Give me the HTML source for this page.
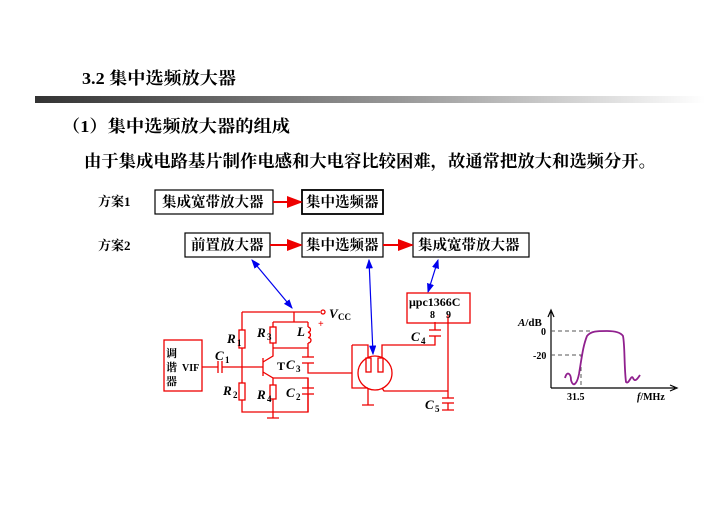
<!DOCTYPE html>
<html><head><meta charset="utf-8"><style>
html,body{margin:0;padding:0;background:#fff;}
svg text{font-family:"Liberation Serif","Noto Serif CJK SC",serif;font-weight:bold;}
</style></head><body>
<svg width="713" height="504" viewBox="0 0 713 504" xmlns="http://www.w3.org/2000/svg">
<defs>
<linearGradient id="g" x1="0" x2="1"><stop offset="0" stop-color="#333"/><stop offset="0.55" stop-color="#999"/><stop offset="1" stop-color="#fff"/></linearGradient>
<marker id="ra" markerWidth="8" markerHeight="6" refX="7" refY="3" orient="auto"><path d="M0,0L8,3L0,6z" fill="#e00"/></marker>
<marker id="ba" markerWidth="8" markerHeight="6" refX="7" refY="3" orient="auto-start-reverse"><path d="M0,0L8,3L0,6z" fill="#00e"/></marker>
</defs>
<text x="82" y="84" font-size="17" textLength="154" lengthAdjust="spacingAndGlyphs">3.2 集中选频放大器</text>
<rect x="35" y="96" width="670" height="7" fill="url(#g)"/>
<text x="62" y="132" font-size="17" textLength="228" lengthAdjust="spacingAndGlyphs">（1）集中选频放大器的组成</text>
<text x="84" y="167" font-size="17" textLength="572" lengthAdjust="spacingAndGlyphs">由于集成电路基片制作电感和大电容比较困难，故通常把放大和选频分开。</text>
<text x="98" y="206" font-size="13">方案1</text>
<text x="98" y="250" font-size="13">方案2</text>
<g fill="none" stroke="#000" stroke-width="1.2">
<rect x="155" y="190" width="118" height="24"/><rect x="302" y="190" width="81" height="24" stroke-width="1.8"/>
<rect x="185" y="233" width="85" height="24"/><rect x="302" y="233" width="81" height="24"/><rect x="413" y="233" width="116" height="24"/>
</g>
<g font-size="14.5">
<text x="162" y="207">集成宽带放大器</text><text x="306" y="207">集中选频器</text>
<text x="191" y="250">前置放大器</text><text x="306" y="250">集中选频器</text><text x="418" y="250">集成宽带放大器</text>
</g>
<g stroke="#e00" stroke-width="2" marker-end="url(#ra)">
<line x1="273" y1="202" x2="301" y2="202"/><line x1="270" y1="245" x2="301" y2="245"/><line x1="383" y1="245" x2="412" y2="245"/>
</g>
<g stroke="#00e" stroke-width="1.2" marker-start="url(#ba)" marker-end="url(#ba)">
<line x1="252" y1="260" x2="292" y2="308"/><line x1="369" y1="260" x2="373" y2="354"/><line x1="438" y1="260" x2="428" y2="292"/>
</g>
<g fill="none" stroke="#e00" stroke-width="1.3">
<rect x="164" y="340" width="38" height="51"/>
<path d="M242 312H320M294 312V322M273 322H308M242 312V412H308V378H273M202 367H218M222 367H263"/>
<line x1="218" y1="361" x2="218" y2="373"/><line x1="222" y1="361" x2="222" y2="373"/>
<rect x="239" y="330" width="6" height="18" fill="#fff"/><rect x="239" y="383" width="6" height="17" fill="#fff"/>
<path d="M273 322V348M308 322V327M308 343V357M308 363V373H352M273 348H308"/>
<rect x="270" y="327" width="6" height="16" fill="#fff"/>
<path d="M308 327a3 2.7 0 0 1 0 5.3a3 2.7 0 0 1 0 5.3a3 2.7 0 0 1 0 5.4"/>
<line x1="302" y1="357" x2="314" y2="357"/><line x1="302" y1="363" x2="314" y2="363"/>
<line x1="263" y1="358" x2="263" y2="376"/><path d="M263 362L273 356V348M263 372L273 378V412"/>
<rect x="270" y="385" width="6" height="14" fill="#fff"/>
<path d="M308 378V388M308 394V412"/><line x1="302" y1="388" x2="314" y2="388"/><line x1="302" y1="394" x2="314" y2="394"/>
<path d="M273 412V418M267 418H279"/>
<circle cx="323" cy="312" r="2"/>
<circle cx="375" cy="373" r="17"/>
<path d="M352 345H368V358M352 345V388H368M382 358V345H435V336M435 330V322M368 388V405M362 405H374M382 388L384 391H448"/>
<rect x="366" y="358" width="5" height="14"/><rect x="378" y="358" width="5" height="14"/>
<line x1="429" y1="336" x2="441" y2="336"/><line x1="429" y1="330" x2="441" y2="330"/>
<rect x="407" y="293" width="63" height="30"/>
<path d="M448 315V398M448 403V410M442 410H454"/>
<line x1="442" y1="398" x2="454" y2="398"/><line x1="442" y1="403" x2="454" y2="403"/>
</g>
<text x="318" y="327" font-size="10" fill="#e00">+</text>
<g font-size="13" font-style="italic"><text x="329" y="318">V</text><text x="227" y="343">R</text><text x="257" y="337">R</text><text x="297" y="336">L</text>
<text x="215" y="360">C</text><text x="286" y="369">C</text><text x="223" y="395">R</text><text x="257" y="399">R</text><text x="286" y="397">C</text><text x="411" y="341">C</text><text x="425" y="409">C</text></g>
<g font-size="9"><text x="338" y="320">CC</text><text x="237" y="346">1</text><text x="267" y="340">3</text><text x="225" y="363">1</text><text x="296" y="372">3</text><text x="233" y="398">2</text><text x="267" y="402">4</text><text x="296" y="400">2</text><text x="421" y="344">4</text><text x="435" y="412">5</text></g>
<text x="277" y="370" font-size="12">T</text>
<g font-size="11"><text x="166" y="357">调</text><text x="166" y="371">谐</text><text x="166" y="385">器</text><text x="182" y="371" font-size="10">VIF</text></g>
<text x="409" y="306" font-size="12">μpc1366C</text><text x="430" y="318" font-size="10">8</text><text x="446" y="318" font-size="10">9</text>
<g stroke="#000" stroke-width="1.2" fill="none">
<path d="M551 388V312M548 317L551 310L554 317M551 388H675M670 385L677 388L670 391"/>
</g>
<g stroke="#555" stroke-dasharray="4 3" fill="none"><path d="M551 331H590M551 355H581V388"/></g>
<path d="M565 378c2-8 6-4 6 2c2 8 6 4 8-6c3-18 4-28 8-38c4-5 10-5 20-5c10 0 14 2 16 5c2 10 1 30 3 46c3 3 5-8 7-4c2 5 5 0 7-3" fill="none" stroke="#90208e" stroke-width="1.8"/>
<text x="518" y="326" font-size="11"><tspan font-style="italic">A</tspan>/dB</text>
<text x="541" y="335" font-size="10">0</text><text x="533" y="359" font-size="10">-20</text>
<text x="567" y="400" font-size="10">31.5</text><text x="637" y="400" font-size="10"><tspan font-style="italic">f</tspan>/MHz</text>
</svg>
</body></html>
